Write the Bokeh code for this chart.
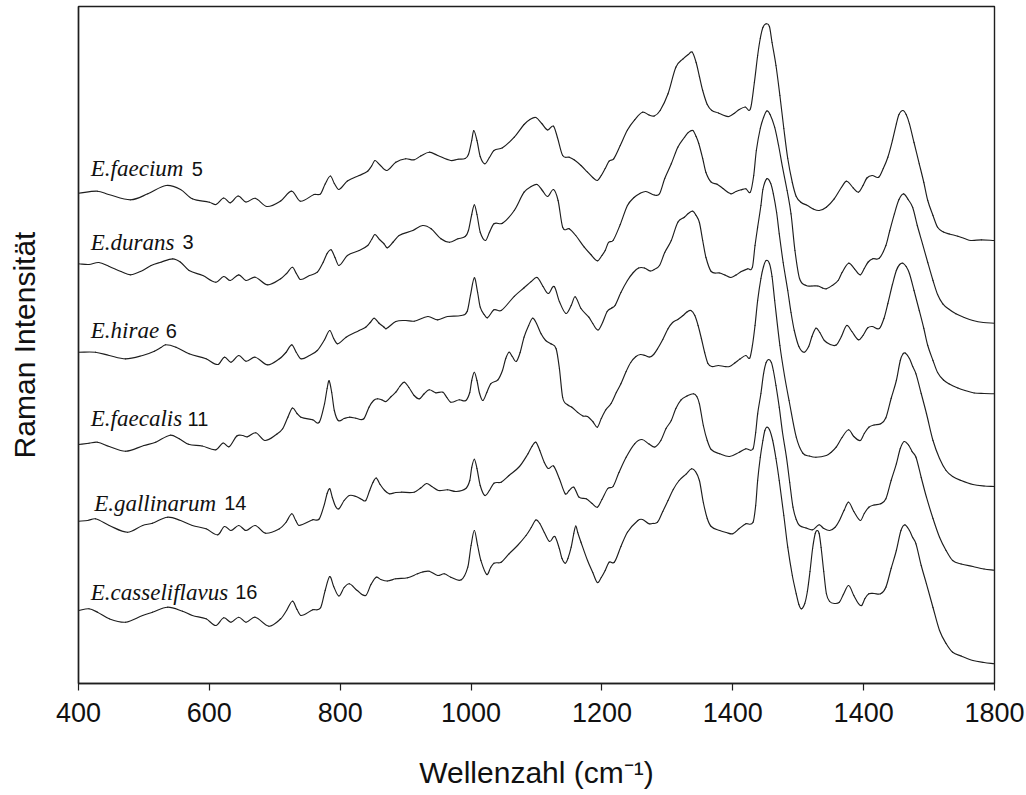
from bokeh.plotting import figure
from bokeh.models import FixedTicker, Range1d, ColumnDataSource
from bokeh.core.properties import value
from bokeh.embed import file_html
from bokeh.resources import INLINE

# Raman spectra of six Enterococcus strains, stacked (arbitrary intensity units)
wn_faecium = [400, 429, 446, 480, 506, 534, 556, 574, 600, 610, 622, 632, 644, 656, 670, 688, 709, 726, 739, 760,
              770, 777, 785, 791, 798, 811, 829, 842, 848, 853, 860, 871, 885, 900, 913, 923, 936, 949, 969, 980,
              991, 996, 1001, 1004, 1009, 1014, 1021, 1028, 1035, 1048, 1066, 1081, 1090, 1099, 1108, 1117, 1126,
              1132, 1140, 1150, 1158, 1168, 1178, 1186, 1193, 1199, 1205, 1211, 1218, 1228, 1239, 1250, 1262, 1272,
              1280, 1289, 1301, 1313, 1324, 1332, 1338, 1344, 1349, 1354, 1361, 1368, 1378, 1387, 1394, 1402, 1410,
              1419, 1427, 1433, 1438, 1442, 1446, 1451, 1456, 1460, 1466, 1472, 1478, 1484, 1491, 1497, 1504, 1514,
              1523, 1532, 1543, 1555, 1566, 1574, 1584, 1592, 1599, 1605, 1613, 1623, 1630, 1637, 1644, 1650, 1654,
              1660, 1665, 1670, 1677, 1685, 1692, 1698, 1706, 1713, 1722, 1731, 1744, 1754, 1764, 1780, 1800]
int_faecium = [490.3, 492.3, 489, 483.7, 489.7, 498, 494, 484.7, 481.3, 479, 485.5, 480.7, 487.5, 481.5, 485.2, 477,
               482.5, 492.3, 482.3, 489, 489.7, 499.5, 507.5, 500, 494, 502.5, 508, 512.3, 517.5, 523, 519, 513,
               521.3, 524.7, 523.7, 527.5, 531.3, 528, 523, 524.3, 525, 529, 543, 553, 543, 527, 519.7, 526, 533,
               535.7, 546.3, 559, 564, 566, 560, 553.5, 557.3, 546, 528, 526.3, 523.5, 518, 511.3, 506, 503, 508,
               515, 522.3, 524.7, 538, 553.5, 563.7, 571.3, 568.5, 567.5, 573, 589.7, 616.3, 624.7, 629, 631.3,
               621, 607, 593, 579, 573, 570.5, 568, 567, 570, 574, 576.5, 574.7, 601, 628, 645, 656, 659.7, 657,
               641, 618, 588, 555, 525, 501, 487, 481.3, 478, 474.5, 473, 476.3, 484.7, 496, 502.3, 495.7, 491.3,
               498, 505.5, 508, 506.3, 515, 526.3, 543, 559.7, 569, 573, 569, 559.7, 541, 519.7, 501, 483, 468,
               456.3, 451.5, 449.5, 447.3, 445, 443, 443.7, 443]

wn_durans = [400, 416, 431, 447, 465, 480, 498, 511, 526, 544, 556, 569, 590, 610, 622, 632, 645, 656, 670, 689, 709,
             718, 727, 733, 739, 753, 765, 774, 780, 786, 792, 798, 811, 829, 842, 848, 853, 860, 867, 872, 881, 890,
             911, 926, 939, 954, 967, 980, 991, 996, 1001, 1005, 1009, 1014, 1022, 1028, 1035, 1048, 1066, 1081,
             1092, 1101, 1109, 1117, 1126, 1133, 1140, 1150, 1160, 1173, 1183, 1193, 1200, 1205, 1210, 1217, 1228,
             1239, 1249, 1258, 1267, 1280, 1288, 1296, 1306, 1316, 1326, 1332, 1339, 1344, 1348, 1354, 1359, 1367,
             1376, 1385, 1397, 1405, 1413, 1420, 1427, 1432, 1436, 1442, 1447, 1452, 1457, 1464, 1470, 1476, 1483,
             1489, 1495, 1502, 1512, 1521, 1530, 1537, 1543, 1552, 1561, 1567, 1577, 1586, 1595, 1601, 1607, 1614,
             1624, 1634, 1640, 1647, 1654, 1661, 1668, 1675, 1682, 1690, 1698, 1706, 1713, 1721, 1731, 1741, 1754,
             1767, 1783, 1800]
int_durans = [419.7, 419, 421, 417, 412, 408.7, 413, 418, 421.3, 424.7, 421.3, 413, 408, 401.3, 407, 403, 408.7, 403,
              406.3, 398.7, 404.7, 410, 416.3, 410, 404, 408, 411.3, 421.3, 430, 433.7, 426, 418, 428, 433, 438, 444,
              449, 444, 439.7, 435.7, 441.5, 448, 453, 458, 454.7, 444.7, 441.3, 444.7, 447, 453, 469, 478.7, 469,
              451.3, 443, 451, 459.7, 460.3, 473, 491.3, 497, 499, 493, 487, 494, 483, 456.3, 454.7, 448, 436.3, 429,
              422.7, 428, 433, 441, 443, 459, 478, 486, 490, 492, 488.5, 489.7, 505, 519.7, 536.3, 546, 551, 553,
              547, 540, 525, 511, 501.3, 499.3, 495, 489.7, 492, 493.7, 494.7, 491.5, 508, 533, 555, 566, 572.5,
              569, 556.3, 538, 516.3, 493, 469.7, 433, 405, 398, 397.5, 397.5, 395.5, 394.7, 398, 403, 411, 420.3,
              414.7, 408.7, 415, 421.5, 424.7, 425.3, 438, 453, 469.7, 484, 489.7, 484, 476, 458, 439.7, 421, 403,
              389, 379.7, 374, 369.7, 366, 363, 361, 360.3]

wn_hirae = [400, 426, 447, 472, 498, 516, 526, 533, 549, 569, 595, 613, 623, 633, 645, 656, 670, 689, 707, 717, 726,
            733, 740, 753, 765, 776, 784, 790, 796, 809, 829, 839, 846, 852, 859, 867, 870, 885, 900, 913, 934, 949,
            964, 985, 994, 999, 1005, 1010, 1014, 1020, 1025, 1035, 1046, 1066, 1081, 1092, 1101, 1110, 1118, 1127,
            1135, 1145, 1153, 1159, 1168, 1180, 1186, 1194, 1201, 1208, 1215, 1220, 1229, 1239, 1248, 1256, 1265,
            1274, 1280, 1288, 1296, 1306, 1316, 1326, 1332, 1339, 1344, 1349, 1354, 1359, 1367, 1380, 1388, 1397,
            1405, 1413, 1423, 1430, 1434, 1438, 1443, 1446, 1452, 1458, 1462, 1467, 1471, 1477, 1484, 1489, 1494,
            1501, 1509, 1516, 1521, 1527, 1533, 1540, 1549, 1558, 1566, 1574, 1582, 1592, 1599, 1606, 1613, 1624,
            1631, 1637, 1644, 1650, 1655, 1660, 1665, 1670, 1677, 1685, 1692, 1698, 1706, 1713, 1722, 1731, 1744,
            1755, 1769, 1784, 1800]
int_hirae = [331.3, 331.3, 328, 324.7, 328, 332.3, 336, 338.7, 336.3, 329.7, 324.7, 319, 326.3, 321.3, 328, 322.3,
             326.3, 318.7, 324.7, 331, 338.7, 331, 324.7, 328, 333, 343.7, 353, 345, 339.7, 346.3, 353, 356.3, 361,
             365.3, 360.5, 356.3, 354.7, 362, 363, 362.3, 367, 363.7, 367, 368, 372, 388, 405.7, 391, 376.3, 369,
             365.7, 373.7, 373, 387.2, 395.7, 402, 406, 397, 390, 397, 382, 370, 378, 386.7, 375, 366.3, 360,
             353.5, 361, 372, 375.5, 378, 391, 403, 411, 415.5, 415.5, 412.5, 414, 418, 431, 443, 461.3, 466.3,
             470, 472.3, 468, 461, 443, 426, 412, 410.5, 408.5, 406, 408.5, 412, 414.7, 416.3, 438, 456.3, 478, 494,
             504.7, 500, 489.7, 471, 449.7, 421, 393, 371, 353, 337, 331.3, 337, 347, 355.3, 351, 343, 339, 338.5,
             347, 358, 352, 343.7, 348, 355.5, 357, 355, 365, 380, 399, 413, 419, 420.3, 417, 410, 393, 373, 355,
             338, 323, 311, 303.5, 299.5, 295.5, 293, 290.5, 290, 289.7]

wn_faecalis = [400, 416, 429, 447, 472, 500, 518, 540, 554, 568, 589, 610, 621, 630, 642, 651, 658, 671, 685, 703, 712,
               720, 727, 734, 740, 758, 768, 776, 780, 783, 787, 791, 797, 806, 814, 824, 836, 844, 851, 857, 864,
               870, 878, 885, 891, 898, 905, 913, 921, 928, 936, 946, 957, 963, 969, 982, 992, 998, 1001, 1005, 1009,
               1013, 1018, 1024, 1030, 1041, 1048, 1053, 1058, 1063, 1069, 1075, 1081, 1088, 1094, 1100, 1107, 1114,
               1122, 1130, 1135, 1140, 1147, 1154, 1163, 1171, 1178, 1186, 1193, 1199, 1206, 1214, 1222, 1229, 1237,
               1244, 1252, 1259, 1266, 1273, 1279, 1285, 1293, 1301, 1308, 1316, 1324, 1330, 1336, 1342, 1347, 1352,
               1357, 1362, 1368, 1378, 1387, 1395, 1403, 1411, 1420, 1426, 1430, 1434, 1438, 1443, 1447, 1451, 1456,
               1460, 1464, 1472, 1479, 1486, 1497, 1507, 1517, 1527, 1543, 1550, 1558, 1567, 1577, 1585, 1595, 1601,
               1608, 1616, 1626, 1634, 1642, 1650, 1656, 1660, 1664, 1670, 1675, 1680, 1688, 1696, 1706, 1716, 1726,
               1736, 1749, 1767, 1784, 1800]
int_faecalis = [239, 240.3, 241.3, 237, 232.3, 238, 241.3, 248.3, 244.7, 239.3, 237.5, 233.7, 240.5, 236.7, 247.5, 248,
                246.7, 250.7, 243, 249.3, 254.7, 266.3, 275.5, 270, 266.3, 263.7, 261.3, 279.7, 295, 302.7, 291, 273,
                263, 265, 266.3, 265.3, 264.7, 276.3, 283, 284.7, 283.5, 282, 287, 291.3, 297, 301.3, 296, 288, 284.7,
                289.5, 293.7, 290.7, 291.3, 286, 281.3, 283.7, 283, 291, 303, 311.3, 303, 290, 283, 291, 299.7, 303.7,
                313, 325, 331.3, 327, 322, 331, 346.3, 358, 365.3, 360, 349.7, 343, 339.7, 334.7, 315, 286, 279,
                276.3, 271, 267.5, 267, 262, 256.3, 265, 273.7, 280, 291, 299.7, 312, 321, 327, 329, 328, 326.5, 329,
                334.7, 344, 354.7, 361, 364, 368, 371.5, 373, 368, 358, 345, 331, 320, 317, 318, 317, 317, 320.5,
                324.5, 328, 325.5, 338, 358, 383, 405, 417, 423, 420, 407, 383, 338, 308, 283, 246.3, 230.3, 227.5,
                226.3, 228, 231, 236.3, 246, 253.7, 247, 243, 250, 256.3, 258.5, 259.7, 265.7, 285, 303, 323, 329.5,
                330.3, 325, 317, 309.7, 290, 270, 243, 225, 213, 207, 203, 199, 197.5, 197]

wn_gallinarum = [400, 414, 426, 447, 475, 498, 513, 536, 556, 574, 595, 613, 623, 633, 645, 656, 670, 686, 707, 717,
                 726, 732, 737, 758, 768, 776, 780, 784, 788, 793, 798, 806, 814, 824, 833, 839, 845, 850, 855, 861,
                 868, 875, 885, 893, 913, 923, 932, 940, 950, 964, 977, 992, 998, 1001, 1005, 1009, 1014, 1021, 1028,
                 1035, 1046, 1058, 1074, 1087, 1093, 1099, 1105, 1112, 1118, 1126, 1135, 1144, 1150, 1157, 1165,
                 1176, 1185, 1193, 1200, 1209, 1217, 1226, 1237, 1250, 1261, 1272, 1281, 1290, 1298, 1306, 1313,
                 1321, 1330, 1340, 1345, 1349, 1355, 1361, 1367, 1380, 1395, 1410, 1420, 1431, 1435, 1438, 1443,
                 1447, 1451, 1455, 1459, 1462, 1466, 1471, 1476, 1482, 1487, 1492, 1497, 1502, 1512, 1522, 1532,
                 1539, 1548, 1556, 1563, 1570, 1577, 1585, 1595, 1601, 1608, 1616, 1626, 1634, 1642, 1650, 1656,
                 1662, 1669, 1674, 1680, 1688, 1696, 1706, 1716, 1726, 1736, 1749, 1767, 1784, 1800]
int_gallinarum = [162.3, 163, 164.7, 158, 151.3, 158, 160.3, 166.3, 163, 158, 154.7, 148.7, 157, 153, 158, 153, 158,
                  150.3, 154.7, 161, 169.7, 163, 158, 163.7, 164.7, 179.7, 190, 194.7, 186, 177, 174.7, 183, 188,
                  187, 184, 183, 193, 201, 205.5, 199, 193, 189.7, 191, 191.3, 191.3, 195.5, 200, 197, 193, 193.7,
                  192, 195, 203, 216, 224.3, 215, 198, 188, 193, 200.3, 201.3, 208, 217, 229.7, 237, 241.3, 233, 221,
                  215, 217.5, 204.7, 189.7, 193, 196.3, 186.3, 184.7, 180, 176.3, 184, 195, 197, 211, 226.3, 239.7,
                  244, 239.5, 236.5, 243, 255, 263, 275, 283.7, 287.5, 289.7, 287, 279.7, 258, 243, 234, 229.7, 227,
                  231.3, 234.7, 234.7, 251, 269.7, 290, 309.7, 321, 324, 321, 313, 298, 276.3, 251, 226.3, 201,
                  176.3, 164, 158, 155.5, 153.7, 158.7, 155, 153, 156, 163, 173, 181.3, 172, 163, 170, 176.3, 178.5,
                  179.7, 184.7, 203, 219.7, 235, 242, 238, 232, 226.3, 206, 186.3, 165, 146.3, 133, 123, 119.5, 117,
                  114.5, 113.3]

wn_casseliflavus = [400, 416, 429, 447, 472, 498, 513, 536, 559, 574, 595, 610, 622, 633, 645, 656, 670, 691, 709, 718,
                    727, 734, 740, 758, 770, 777, 784, 790, 798, 806, 814, 826, 839, 847, 855, 862, 872, 885, 903,
                    918, 926, 936, 949, 959, 969, 985, 995, 1000, 1005, 1010, 1015, 1024, 1030, 1035, 1046, 1058,
                    1071, 1084, 1092, 1099, 1105, 1112, 1120, 1128, 1135, 1139, 1144, 1148, 1153, 1157, 1160, 1163,
                    1168, 1178, 1186, 1193, 1199, 1205, 1211, 1219, 1229, 1239, 1255, 1262, 1272, 1277, 1285, 1293,
                    1301, 1309, 1318, 1329, 1337, 1343, 1349, 1355, 1361, 1367, 1380, 1390, 1400, 1410, 1420, 1431,
                    1435, 1438, 1442, 1446, 1449, 1452, 1456, 1461, 1466, 1471, 1478, 1484, 1491, 1497, 1501, 1505,
                    1510, 1514, 1518, 1522, 1526, 1529, 1532, 1535, 1539, 1543, 1548, 1556, 1563, 1569, 1577, 1585,
                    1592, 1597, 1602, 1608, 1616, 1626, 1634, 1642, 1650, 1657, 1663, 1670, 1675, 1680, 1688, 1696,
                    1706, 1716, 1726, 1736, 1749, 1767, 1784, 1800]
int_casseliflavus = [73, 74.7, 71.3, 64.7, 61.3, 68, 71.3, 76.3, 72.3, 68, 64.7, 58, 65.7, 61.3, 66.3, 61.3, 66.3, 57.3,
                     64.7, 73, 82.3, 74, 68, 73.7, 75.7, 93, 107, 97, 87.5, 96, 99.7, 93, 88, 99, 106.3, 104, 102.5,
                     104.7, 105.7, 109.7, 111.5, 112.3, 108, 109.7, 106.3, 103.7, 116.3, 138, 153, 138, 123, 109, 116,
                     120.3, 121.3, 129.7, 138, 148, 156, 163.5, 160, 151, 142, 147, 134.7, 125, 120.3, 125, 136.3, 150,
                     157.5, 151, 141.3, 123, 111, 101, 106, 113, 121.3, 121.3, 137, 151.3, 163, 164, 159.7, 160, 161.3,
                     172, 183, 194, 203, 209.7, 214.7, 212, 203, 181, 165, 157, 153, 151, 149.7, 155, 159.7, 161.3,
                     178, 203, 226, 243, 253, 256.3, 254, 243, 225, 203, 168, 136.3, 108, 89.7, 79, 74.7, 80, 92, 112,
                     135, 150, 153, 150, 136, 112, 90, 82, 80, 81.3, 89, 98, 88, 80, 78, 85, 89.7, 90, 89.7, 96.3,
                     115, 133, 153, 158.7, 153, 146, 139.7, 118, 99.7, 76, 53, 40, 31.3, 27.5, 23, 21, 19.7]

spectra = [
    (wn_faecium, int_faecium),
    (wn_durans, int_durans),
    (wn_hirae, int_hirae),
    (wn_faecalis, int_faecalis),
    (wn_gallinarum, int_gallinarum),
    (wn_casseliflavus, int_casseliflavus),
]

# strain labels: species name (italic) and strain number
species = ["E.faecium", "E.durans", "E.hirae", "E.faecalis", "E.gallinarum", "E.casseliflavus"]
strains = ["5", "3", "6", "11", "14", "16"]
name_x = [418.8, 418.8, 418.8, 418.8, 423.9, 418.8]
strain_x = [573, 559, 533.5, 566.7, 622.6, 639.4]
label_y = [514.7, 441.3, 353, 264.7, 180.3, 91.3]

tick_values = [400, 600, 800, 1000, 1200, 1400, 1600, 1800]
tick_labels = ["400", "600", "800", "1000", "1200", "1400", "1400", "1800"]

INK = "#1e1e1e"


def smooth_segments(xs, ys):
    """Cubic Hermite segments through the measured points (tangents from
    neighbouring points), returned as Bezier control data for p.bezier."""
    n = len(xs)
    slopes = []
    for i in range(n):
        a = max(i - 1, 0)
        b = min(i + 1, n - 1)
        slopes.append((ys[b] - ys[a]) / (xs[b] - xs[a]))
    seg = dict(x0=[], y0=[], x1=[], y1=[], cx0=[], cy0=[], cx1=[], cy1=[])
    for i in range(n - 1):
        dx = xs[i + 1] - xs[i]
        seg["x0"].append(xs[i])
        seg["y0"].append(ys[i])
        seg["x1"].append(xs[i + 1])
        seg["y1"].append(ys[i + 1])
        seg["cx0"].append(xs[i] + dx / 3)
        seg["cy0"].append(ys[i] + slopes[i] * dx / 3)
        seg["cx1"].append(xs[i + 1] - dx / 3)
        seg["cy1"].append(ys[i + 1] - slopes[i + 1] * dx / 3)
    return ColumnDataSource(seg)


p = figure(frame_width=916, frame_height=677,
           x_range=Range1d(400, 1800), y_range=Range1d(0, 677),
           output_backend="svg", toolbar_location=None,
           min_border_left=78, min_border_right=32, min_border_top=6, min_border_bottom=112)
p.background_fill_color = "white"
p.border_fill_color = "white"
p.outline_line_color = INK
p.outline_line_width = 1.4
p.xgrid.visible = False
p.ygrid.visible = False

for wn, inten in spectra:
    p.bezier(x0="x0", y0="y0", x1="x1", y1="y1", cx0="cx0", cy0="cy0", cx1="cx1", cy1="cy1",
             source=smooth_segments(wn, inten), line_color=INK, line_width=1.15, line_cap="round")

p.text(x=name_x, y=label_y, text=species, text_font=value("Liberation Serif"),
       text_font_style="italic", text_font_size="23px", text_color="#111111",
       text_align="left", text_baseline="alphabetic")
p.text(x=strain_x, y=label_y, text=strains, text_font=value("Liberation Sans"),
       text_font_size="20px", text_color="#111111",
       text_align="left", text_baseline="alphabetic")

xa = p.xaxis[0]
xa.ticker = FixedTicker(ticks=tick_values)
xa.major_label_overrides = {v: s for v, s in zip(tick_values, tick_labels)}
xa.major_tick_in = 0
xa.major_tick_out = 7
xa.minor_tick_line_color = None
xa.axis_line_color = INK
xa.axis_line_width = 1.4
xa.major_tick_line_color = INK
xa.major_tick_line_width = 1.2
xa.major_label_text_font = "Liberation Sans"
xa.major_label_text_font_size = "27px"
xa.major_label_text_color = "#111111"
xa.major_label_standoff = 12
xa.axis_label = "Wellenzahl (cm⁻¹)"
xa.axis_label_text_font = "Liberation Sans"
xa.axis_label_text_font_style = "normal"
xa.axis_label_text_font_size = "30px"
xa.axis_label_text_color = "#111111"
xa.axis_label_standoff = 31

ya = p.yaxis[0]
ya.ticker = FixedTicker(ticks=[])
ya.major_tick_line_color = None
ya.minor_tick_line_color = None
ya.axis_line_color = INK
ya.axis_line_width = 1.4
ya.axis_label = "Raman Intensität"
ya.axis_label_text_font = "Liberation Sans"
ya.axis_label_text_font_style = "normal"
ya.axis_label_text_font_size = "30px"
ya.axis_label_text_color = "#111111"
ya.axis_label_standoff = 38

open("out.html", "w").write(file_html(p, INLINE))
